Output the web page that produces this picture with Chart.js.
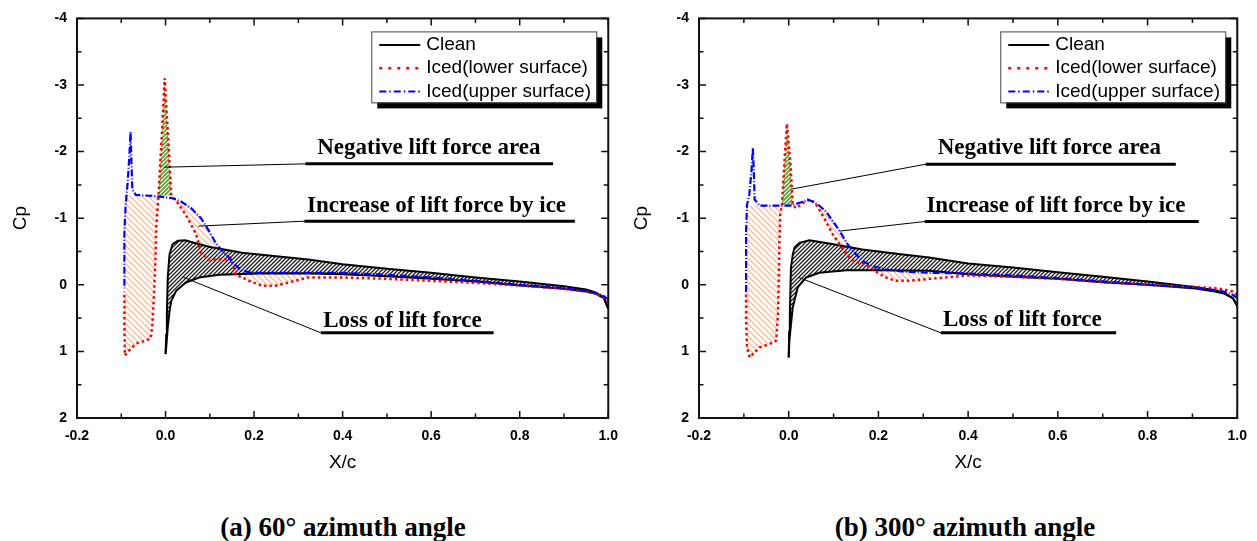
<!DOCTYPE html>
<html>
<head>
<meta charset="utf-8">
<script src="https://cdn.jsdelivr.net/npm/chart.js@4.4.0/dist/chart.umd.min.js"></script>
<style>
body { margin: 0; background: #fff; }
#wrap { position: relative; width: 1257px; height: 541px; overflow: hidden; }
canvas { position: absolute; top: 0; }
.cap { position: absolute; top: 512px; width: 400px; text-align: center; white-space: nowrap;
       font: bold 27px 'Liberation Serif', 'Times New Roman', serif; line-height: 30px; color: #000; }
</style>
</head>
<body>
<div id="wrap">
  <canvas id="chartA" width="628" height="475" style="left:0"></canvas>
  <canvas id="chartB" width="629" height="475" style="left:628px"></canvas>
  <div class="cap" style="left:143px">(a) 60° azimuth angle</div>
  <div class="cap" style="left:765px">(b) 300° azimuth angle</div>
</div>
<script>
// Axis ticks and series names
const xTicks = [-0.2, 0.0, 0.2, 0.4, 0.6, 0.8, 1.0];
const yTicks = [-4, -3, -2, -1, 0, 1, 2];
const seriesNames = ['Clean', 'Iced(lower surface)', 'Iced(upper surface)'];

// (a) 60 deg azimuth - [x/c, Cp]
const cleanUpperA = [[0.0,1.04],[0.0015,0.75],[0.003,0.44],[0.005,-0.11],[0.009,-0.46],[0.016,-0.61],[0.028,-0.66],[0.045,-0.67],[0.06,-0.64],[0.098,-0.57],[0.173,-0.48],[0.25,-0.43],[0.322,-0.38],[0.4,-0.31],[0.5,-0.24],[0.6,-0.18],[0.7,-0.11],[0.8,-0.05],[0.9,0.02],[0.95,0.07],[0.97,0.11],[0.99,0.19],[1.0,0.36]];
const cleanLowerA = [[0.0,1.04],[0.002,0.9],[0.005,0.64],[0.009,0.4],[0.013,0.24],[0.024,0.09],[0.046,-0.035],[0.076,-0.11],[0.121,-0.15],[0.21,-0.17],[0.322,-0.17],[0.4,-0.16],[0.5,-0.13],[0.6,-0.09],[0.7,-0.05],[0.8,0.01],[0.9,0.06],[0.95,0.1],[0.97,0.13],[0.99,0.2],[1.0,0.36]];
const icedLowerA = [[1.0,0.26],[0.99,0.19],[0.97,0.13],[0.95,0.1],[0.9,0.06],[0.8,0.01],[0.7,-0.03],[0.6,-0.06],[0.5,-0.09],[0.4,-0.11],[0.322,-0.11],[0.293,-0.06],[0.248,0.015],[0.218,0.015],[0.188,-0.06],[0.158,-0.16],[0.147,-0.41],[0.136,-0.38],[0.098,-0.38],[0.08,-0.48],[0.069,-0.76],[0.046,-1.05],[0.025,-1.25],[0.013,-1.35],[0.006,-2.2],[-0.002,-3.1],[-0.008,-2.3],[-0.016,-1.33],[-0.021,-0.86],[-0.023,-0.36],[-0.026,0.14],[-0.03,0.64],[-0.034,0.81],[-0.051,0.85],[-0.066,0.88],[-0.08,0.97],[-0.092,1.06],[-0.093,0.6],[-0.093,0.1]];
const icedUpperA = [[1.0,0.22],[0.99,0.17],[0.97,0.12],[0.95,0.09],[0.9,0.05],[0.8,0.0],[0.7,-0.06],[0.6,-0.11],[0.5,-0.15],[0.4,-0.18],[0.322,-0.18],[0.196,-0.18],[0.173,-0.21],[0.155,-0.31],[0.143,-0.41],[0.128,-0.51],[0.113,-0.63],[0.098,-0.81],[0.08,-1.0],[0.058,-1.15],[0.035,-1.25],[0.016,-1.3],[-0.021,-1.33],[-0.067,-1.35],[-0.075,-1.43],[-0.077,-1.85],[-0.079,-2.3],[-0.082,-1.9],[-0.086,-1.5],[-0.09,-1.2],[-0.093,-0.8],[-0.093,-0.3],[-0.093,0.05]];
const iceBlockA = [[-0.093,-1.35],[-0.016,-1.33],[-0.021,-0.86],[-0.023,-0.36],[-0.026,0.14],[-0.03,0.64],[-0.034,0.81],[-0.051,0.85],[-0.066,0.88],[-0.08,0.97],[-0.092,1.06],[-0.093,0.5]];

// (b) 300 deg azimuth
const cleanUpperB = [[0.0,1.09],[0.001,0.7],[0.0025,0.44],[0.005,-0.26],[0.009,-0.45],[0.013,-0.56],[0.024,-0.63],[0.046,-0.67],[0.09,-0.62],[0.164,-0.53],[0.25,-0.46],[0.313,-0.41],[0.4,-0.32],[0.5,-0.26],[0.6,-0.19],[0.7,-0.12],[0.8,-0.05],[0.9,0.03],[0.95,0.08],[0.97,0.12],[0.99,0.2],[1.0,0.32]];
const cleanLowerB = [[0.0,1.09],[0.0015,0.84],[0.005,0.6],[0.009,0.34],[0.02,0.04],[0.039,-0.11],[0.068,-0.18],[0.128,-0.22],[0.2,-0.22],[0.313,-0.21],[0.4,-0.16],[0.5,-0.12],[0.6,-0.09],[0.7,-0.04],[0.8,0.0],[0.9,0.05],[0.95,0.1],[0.97,0.13],[0.99,0.2],[1.0,0.32]];
const icedLowerB = [[1.0,0.15],[0.99,0.1],[0.97,0.07],[0.95,0.05],[0.9,0.03],[0.8,0.0],[0.7,-0.04],[0.6,-0.09],[0.5,-0.12],[0.4,-0.14],[0.313,-0.09],[0.268,-0.06],[0.239,-0.06],[0.216,-0.11],[0.194,-0.2],[0.172,-0.31],[0.157,-0.33],[0.139,-0.38],[0.124,-0.51],[0.113,-0.61],[0.098,-0.76],[0.079,-1.0],[0.064,-1.18],[0.05,-1.28],[0.039,-1.26],[0.016,-1.15],[0.009,-1.2],[0.004,-1.8],[-0.004,-2.42],[-0.01,-1.8],[-0.015,-1.2],[-0.019,-1.05],[-0.021,-0.56],[-0.022,-0.06],[-0.024,0.44],[-0.028,0.84],[-0.043,0.89],[-0.065,0.94],[-0.087,1.09],[-0.093,0.94],[-0.095,0.5],[-0.095,0.14]];
const icedUpperB = [[1.0,0.2],[0.99,0.15],[0.97,0.1],[0.95,0.08],[0.9,0.04],[0.8,0.0],[0.7,-0.05],[0.6,-0.1],[0.5,-0.14],[0.4,-0.17],[0.313,-0.18],[0.253,-0.2],[0.216,-0.23],[0.187,-0.28],[0.164,-0.36],[0.15,-0.46],[0.131,-0.61],[0.116,-0.78],[0.098,-0.96],[0.083,-1.1],[0.068,-1.19],[0.053,-1.25],[0.042,-1.28],[0.028,-1.24],[0.005,-1.19],[-0.021,-1.19],[-0.065,-1.19],[-0.076,-1.28],[-0.078,-1.75],[-0.08,-2.05],[-0.083,-1.7],[-0.088,-1.35],[-0.093,-1.2],[-0.095,-0.8],[-0.095,0.14]];
const iceBlockB = [[-0.095,-1.19],[-0.015,-1.19],[-0.019,-1.05],[-0.021,-0.56],[-0.022,-0.06],[-0.024,0.44],[-0.028,0.84],[-0.043,0.89],[-0.065,0.94],[-0.087,1.09],[-0.093,0.94],[-0.095,0.5]];

// callout labels (positions in axis units)
const notesA = [
  { text: 'Negative lift force area', tx: 0.3425, ty: -1.96, ux0: 0.3157, ux1: 0.8753, uy: -1.816, px: -0.003, py: -1.766 },
  { text: 'Increase of lift force by ice', tx: 0.3195, ty: -1.094, ux0: 0.3134, ux1: 0.9246, uy: -0.955, px: 0.0737, py: -0.881 },
  { text: 'Loss of lift force', tx: 0.356, ty: 0.627, ux0: 0.3508, ux1: 0.741, uy: 0.721, px: 0.038, py: -0.119 }
];
const notesB = [
  { text: 'Negative lift force area', tx: 0.332, ty: -1.96, ux0: 0.305, ux1: 0.863, uy: -1.81, px: 0.0067, py: -1.437 },
  { text: 'Increase of lift force by ice', tx: 0.307, ty: -1.094, ux0: 0.303, ux1: 0.914, uy: -0.95, px: 0.113, py: -0.806 },
  { text: 'Loss of lift force', tx: 0.344, ty: 0.612, ux0: 0.339, ux1: 0.730, uy: 0.721, px: 0.023, py: -0.109 }
];

const SANS = "'Liberation Sans', Arial, sans-serif";
const SERIF = "'Liberation Serif', 'Times New Roman', serif";
Chart.defaults.font.family = SANS;
Chart.defaults.color = '#000';

const lineStyles = [
  { color: '#000000', width: 2, dash: [], legendDash: [] },
  { color: '#ff0000', width: 2.5, dash: [2.5, 3], legendDash: [3, 6] },
  { color: '#0000ff', width: 2.2, dash: [7, 2, 1, 2], legendDash: [7, 3, 1.5, 3] }
];

function hatch(color, size, width, dir, bg) {
  const c = document.createElement('canvas');
  c.width = size; c.height = size;
  const g = c.getContext('2d');
  if (bg) { g.fillStyle = bg; g.fillRect(0, 0, size, size); }
  g.strokeStyle = color;
  g.lineWidth = width;
  g.beginPath();
  if (dir === '/') {
    g.moveTo(0, size); g.lineTo(size, 0);
    g.moveTo(-size / 2, size / 2); g.lineTo(size / 2, -size / 2);
    g.moveTo(size / 2, size * 1.5); g.lineTo(size * 1.5, size / 2);
  } else {
    g.moveTo(0, 0); g.lineTo(size, size);
    g.moveTo(-size / 2, size / 2); g.lineTo(size / 2, size * 1.5);
    g.moveTo(size / 2, -size / 2); g.lineTo(size * 1.5, size / 2);
  }
  g.stroke();
  return g.createPattern(c, 'repeat');
}

const lossFill = hatch('#1e1e1e', 4, 1.3, '/', '#ffffff');
const gainFill = hatch('#f5bd9b', 6, 1.3, '\\');
const negFill = hatch('#5e9e3c', 4, 1.7, '/');

const xy = arr => arr.map(p => ({ x: p[0], y: p[1] }));
const inRange = (arr, lo, hi) => arr.filter(p => p[0] >= lo && p[0] <= hi);

function overlay(notes) {
  return {
    id: 'overlay',
    afterDatasetsDraw(chart) {
      const { ctx, scales: { x, y } } = chart;
      ctx.save();
      notes.forEach(n => {
        const u0 = x.getPixelForValue(n.ux0), u1 = x.getPixelForValue(n.ux1), uy = y.getPixelForValue(n.uy);
        ctx.strokeStyle = '#000';
        ctx.lineWidth = 1;
        ctx.beginPath();
        ctx.moveTo(x.getPixelForValue(n.px), y.getPixelForValue(n.py));
        ctx.lineTo(u0, uy);
        ctx.stroke();
        ctx.lineWidth = 3;
        ctx.beginPath();
        ctx.moveTo(u0, uy); ctx.lineTo(u1, uy);
        ctx.stroke();
        ctx.fillStyle = '#000';
        ctx.font = 'bold 23px ' + SERIF;
        ctx.textAlign = 'left';
        ctx.textBaseline = 'alphabetic';
        ctx.fillText(n.text, x.getPixelForValue(n.tx), y.getPixelForValue(n.ty));
      });
      ctx.restore();
    },
    afterDraw(chart) {
      const { ctx, chartArea: a, scales: { x, y } } = chart;
      ctx.save();
      // frame with inward ticks on all four sides
      const xMinor = xTicks.slice(1).map((v, i) => (v + xTicks[i]) / 2);
      const yMinor = yTicks.slice(1).map((v, i) => (v + yTicks[i]) / 2);
      ctx.strokeStyle = '#111';
      ctx.lineWidth = 1.5;
      ctx.beginPath();
      xTicks.concat(xMinor).forEach((v, i) => {
        const len = i < xTicks.length ? 7 : 4.5;
        const p = x.getPixelForValue(v);
        ctx.moveTo(p, a.bottom); ctx.lineTo(p, a.bottom - len);
        ctx.moveTo(p, a.top); ctx.lineTo(p, a.top + len);
      });
      yTicks.concat(yMinor).forEach((v, i) => {
        const len = i < yTicks.length ? 7 : 4.5;
        const p = y.getPixelForValue(v);
        ctx.moveTo(a.left, p); ctx.lineTo(a.left + len, p);
        ctx.moveTo(a.right, p); ctx.lineTo(a.right - len, p);
      });
      ctx.stroke();
      ctx.lineWidth = 2;
      ctx.strokeRect(a.left, a.top, a.right - a.left, a.bottom - a.top);

      // legend box with drop shadow
      const bw = 225, bh = 71;
      const bx = a.right - 12 - bw, by = a.top + 13;
      ctx.fillStyle = '#000';
      ctx.fillRect(bx + 6, by + 6, bw, bh);
      ctx.fillStyle = '#fff';
      ctx.fillRect(bx, by, bw, bh);
      ctx.strokeStyle = '#444';
      ctx.lineWidth = 1;
      ctx.strokeRect(bx + 0.5, by + 0.5, bw, bh);
      ctx.font = '19px ' + SANS;
      ctx.textBaseline = 'middle';
      ctx.textAlign = 'left';
      seriesNames.forEach((name, i) => {
        const ry = by + 13.5 + i * 23.3;
        const s = lineStyles[i];
        ctx.strokeStyle = s.color;
        ctx.lineWidth = s.width;
        ctx.setLineDash(s.legendDash);
        ctx.beginPath();
        ctx.moveTo(bx + 8, ry); ctx.lineTo(bx + 49, ry);
        ctx.stroke();
        ctx.setLineDash([]);
        ctx.fillStyle = '#000';
        ctx.fillText(name, bx + 55, ry);
      });
      ctx.restore();
    }
  };
}

function makeChart(id, cleanUpper, cleanLower, icedLower, icedUpper, iceBlock, strip, spike, notes, yAxisWidth, padRight, titlePad) {
  const lossShape = cleanUpper.concat(cleanLower.slice().reverse());
  const gainStrip = inRange(icedUpper, strip[0], strip[1]).concat(inRange(icedLower, strip[0], strip[1]).reverse());
  const negShape = icedLower.filter(p => p[0] >= spike[0] && p[0] <= spike[1] && p[1] <= spike[2]);

  const area = (data, fill, order) => ({
    data: xy(data), showLine: true, fill: 'shape', backgroundColor: fill,
    borderColor: 'rgba(0,0,0,0)', borderWidth: 1, pointRadius: 0, order: order
  });
  const curve = (data, s, order) => ({
    data: xy(data), showLine: true, fill: false, borderColor: s.color, borderWidth: s.width,
    borderDash: s.dash, pointRadius: 0, tension: 0, order: order
  });

  return new Chart(document.getElementById(id), {
    type: 'scatter',
    data: {
      datasets: [
        area(iceBlock, gainFill, 7),
        area(gainStrip, gainFill, 7),
        area(negShape, negFill, 6),
        area(lossShape, lossFill, 5),
        curve(cleanUpper, lineStyles[0], 3),
        curve(cleanLower, lineStyles[0], 3),
        curve(icedLower, lineStyles[1], 2),
        curve(icedUpper, lineStyles[2], 1)
      ]
    },
    options: {
      responsive: false,
      animation: false,
      layout: { padding: { left: 0, right: padRight, top: 16, bottom: 0 } },
      plugins: { legend: { display: false }, tooltip: { enabled: false } },
      scales: {
        x: {
          type: 'linear', min: -0.2, max: 1.0,
          afterBuildTicks: s => { s.ticks = xTicks.map(v => ({ value: v })); },
          afterFit: s => { s.height = 57; },
          grid: { display: false, drawTicks: false },
          border: { display: false },
          ticks: { callback: v => v.toFixed(1), font: { size: 14, weight: 'bold' }, color: '#000', padding: 10, maxRotation: 0, autoSkip: false },
          title: { display: true, text: 'X/c', font: { size: 19 }, color: '#000', padding: { top: 0, bottom: 1 } }
        },
        y: {
          type: 'linear', min: -4, max: 2, reverse: true,
          afterBuildTicks: s => { s.ticks = yTicks.map(v => ({ value: v })); },
          afterFit: s => { s.width = yAxisWidth; },
          grid: { display: false, drawTicks: false },
          border: { display: false },
          ticks: { callback: v => String(v), font: { size: 14, weight: 'bold' }, color: '#000', padding: 10, autoSkip: false },
          title: { display: true, text: 'Cp', font: { size: 19 }, color: '#000', padding: { top: titlePad, bottom: 0 } }
        }
      }
    },
    plugins: [overlay(notes)]
  });
}

makeChart('chartA', cleanUpperA, cleanLowerA, icedLowerA, icedUpperA, iceBlockA, [0.013, 0.34], [-0.016, 0.013, -1.3], notesA, 77, 15, 9);
makeChart('chartB', cleanUpperB, cleanLowerB, icedLowerB, icedUpperB, iceBlockB, [0.05, 0.34], [-0.015, 0.009, -1.19], notesB, 71, 18, 2);
</script>
</body>
</html>
